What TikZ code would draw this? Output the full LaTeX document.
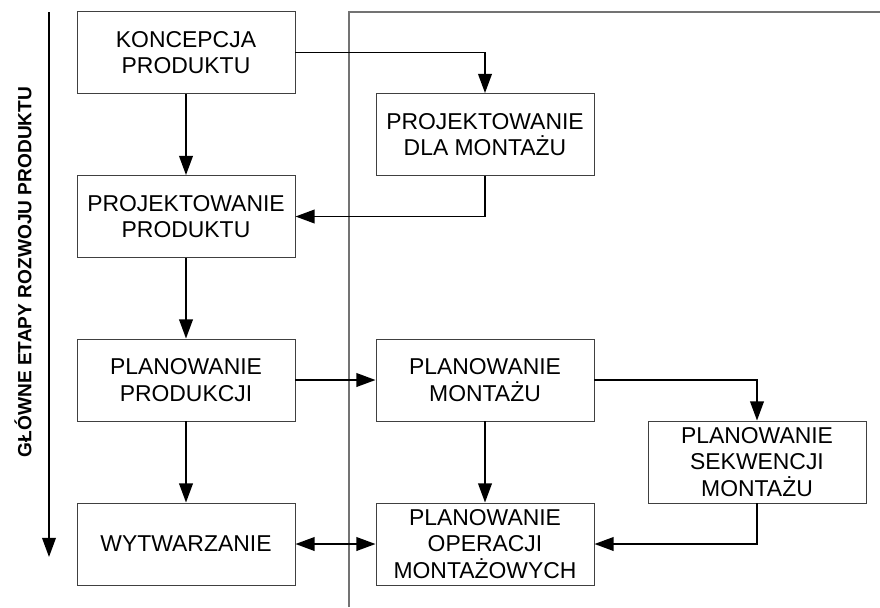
\documentclass[tikz,border=0pt]{standalone}
\usepackage{fontspec}
\setmainfont{Liberation Sans}
\usetikzlibrary{arrows.meta}

\begin{document}
\begin{tikzpicture}[x=0.025cm, y=-0.025cm,
    etap/.style={draw=black!75, line width=0.6pt, minimum width=5.45cm,
      minimum height=2.05cm, inner sep=0pt, align=center,
      font=\fontsize{16.3}{19}\selectfont},
    grot/.tip={Triangle[length=0.48cm, width=0.34cm]},
    strzalka/.style={line width=1.4pt, -grot},
    podzial/.style={draw=black!55, line width=0.8pt}]

          \useasboundingbox (0, 0) rectangle (880, 607);

          % Axis
          \coordinate (os1) at (49, 12);
          \coordinate (os2) at (49, 557);
          \draw[strzalka] (os1) -- (os2);
          \node[rotate=90, font=\fontsize{13.6}{16}\selectfont\bfseries]
            (osopis) at (23, 272) {GŁÓWNE ETAPY ROZWOJU PRODUKTU};

          % Divider
          \draw[podzial] (349, 607) -- (349, 12) -- (880, 12);

          % Main stages
          \node[etap] (koncepcja) at (186, 52.5) {KONCEPCJA\\PRODUKTU};
          \node[etap] (projprod) at (186, 216.5) {PROJEKTOWANIE\\PRODUKTU};
          \node[etap] (planprod) at (186, 380) {PLANOWANIE\\PRODUKCJI};
          \node[etap] (wytw) at (186, 544) {WYTWARZANIE};

          % Assembly
          \node[etap] (projmont) at (485, 134.5) {PROJEKTOWANIE\\DLA MONTAŻU};
          \node[etap] (planmont) at (485, 380) {PLANOWANIE\\MONTAŻU};
          \node[etap] (planop) at (485, 544) {PLANOWANIE\\OPERACJI\\MONTAŻOWYCH};
          \node[etap] (plansek) at (757, 462) {PLANOWANIE\\SEKWENCJI\\MONTAŻU};

          \draw[strzalka] (koncepcja) -- (projprod);
          \draw[strzalka] (projprod) -- (planprod);
          \draw[strzalka] (planprod) -- (wytw);
          \draw[strzalka] (koncepcja.east) -| (projmont.north);
          \draw[strzalka] (projmont.south) |- (projprod.east);
          \draw[strzalka] (planprod) -- (planmont);
          \draw[strzalka] (planmont) -- (planop);
          \draw[strzalka] (planmont.east) -| (plansek.north);
          \draw[strzalka] (plansek.south) |- (planop.east);
          \draw[strzalka, grot-grot] (wytw) -- (planop);
        \end{tikzpicture}
\end{document}
